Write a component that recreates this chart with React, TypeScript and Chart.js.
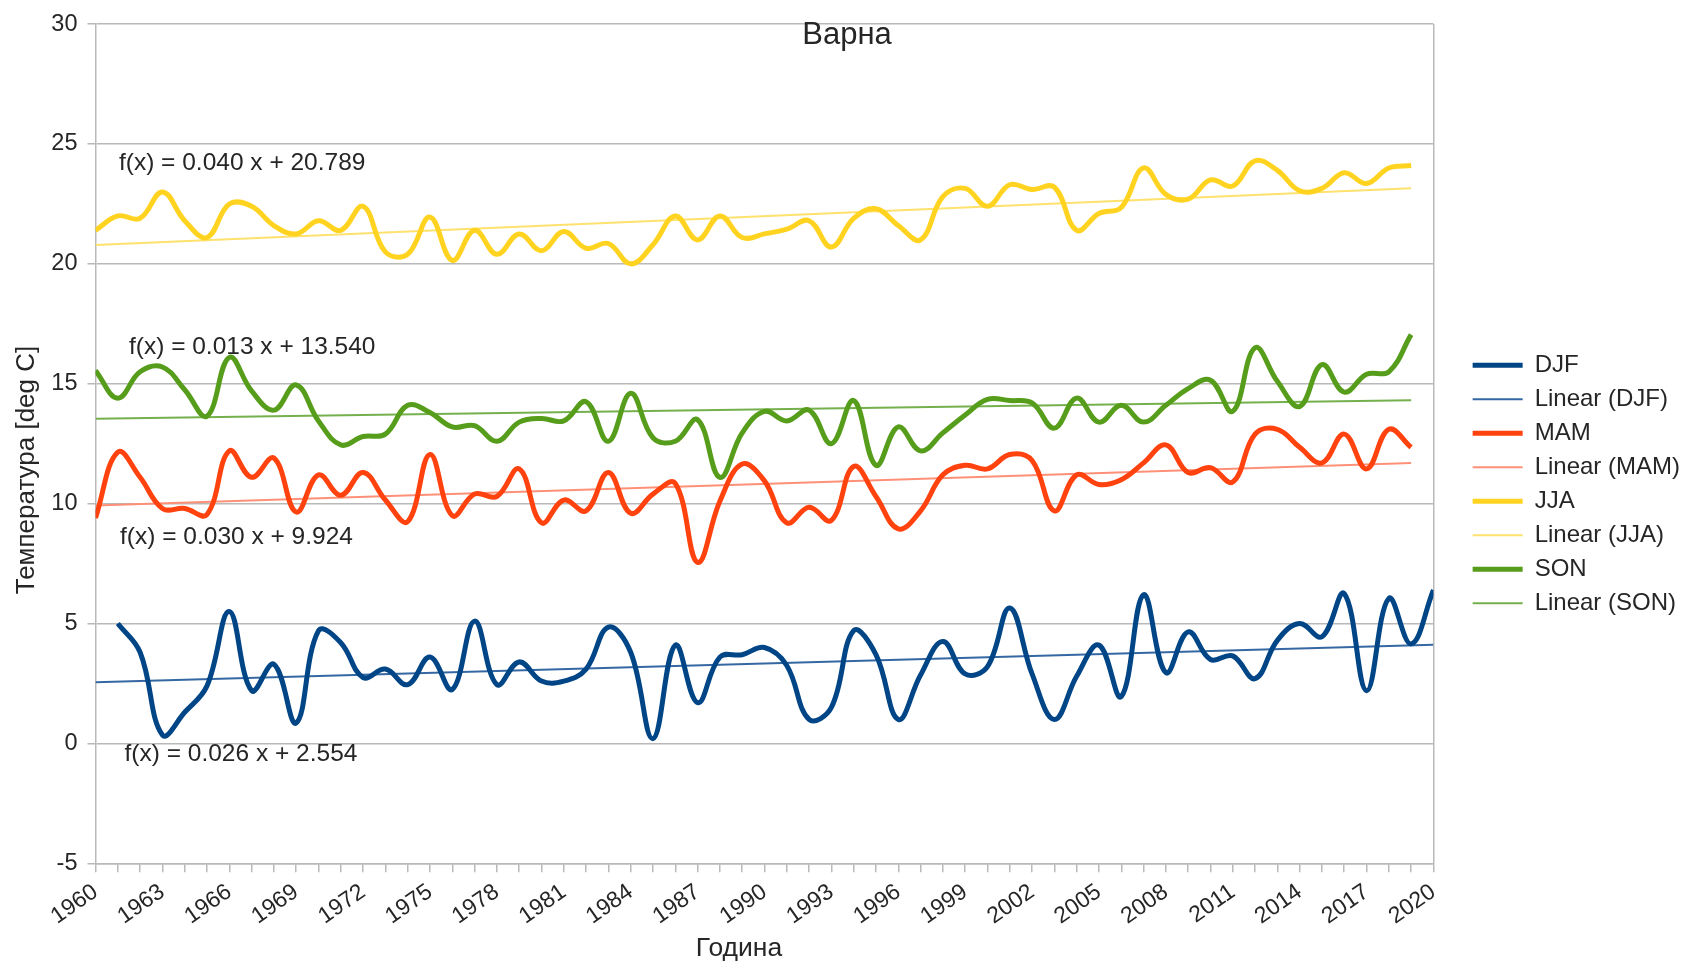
import React, { useEffect, useRef } from "react";
import { Chart, registerables } from "chart.js";

Chart.register(...registerables);

const FONT = '"Liberation Sans", Arial, Helvetica, sans-serif';
const TEXT_COLOR = "#262626";
const GRID_COLOR = "#b9b9b9";

// ---------- data ----------
const yearsSeason = [
  1960, 1961, 1962, 1963, 1964, 1965, 1966, 1967, 1968, 1969,
  1970, 1971, 1972, 1973, 1974, 1975, 1976, 1977, 1978, 1979,
  1980, 1981, 1982, 1983, 1984, 1985, 1986, 1987, 1988, 1989,
  1990, 1991, 1992, 1993, 1994, 1995, 1996, 1997, 1998, 1999,
  2000, 2001, 2002, 2003, 2004, 2005, 2006, 2007, 2008, 2009,
  2010, 2011, 2012, 2013, 2014, 2015, 2016, 2017, 2018, 2019,
];

const yearsDJF = [
  1961, 1962, 1963, 1964, 1965, 1966, 1967, 1968, 1969, 1970,
  1971, 1972, 1973, 1974, 1975, 1976, 1977, 1978, 1979, 1980,
  1981, 1982, 1983, 1984, 1985, 1986, 1987, 1988, 1989, 1990,
  1991, 1992, 1993, 1994, 1995, 1996, 1997, 1998, 1999, 2000,
  2001, 2002, 2003, 2004, 2005, 2006, 2007, 2008, 2009, 2010,
  2011, 2012, 2013, 2014, 2015, 2016, 2017, 2018, 2019, 2020,
];

const djfValues = [
  5.0, 3.8, 0.35, 1.3, 2.4, 5.5, 2.2, 3.3, 0.85, 4.7,
  4.2, 2.75, 3.1, 2.45, 3.6, 2.25, 5.1, 2.45, 3.4, 2.6,
  2.6, 3.1, 4.85, 3.8, 0.2, 4.1, 1.7, 3.6, 3.7, 4.0,
  3.25, 1.0, 1.5, 4.7, 3.7, 1.0, 2.85, 4.25, 2.9, 3.2,
  5.65, 2.9, 1.0, 2.8, 4.1, 1.95, 6.2, 2.95, 4.65, 3.5,
  3.65, 2.7, 4.3, 5.0, 4.45, 6.25, 2.2, 6.05, 4.15, 6.4,
];

const mamValues = [
  9.4, 12.15, 11.1, 9.8, 9.8, 9.55, 12.2, 11.1, 11.9, 9.65,
  11.2, 10.35, 11.3, 10.15, 9.25, 12.05, 9.5, 10.4, 10.3, 11.45,
  9.2, 10.15, 9.7, 11.3, 9.6, 10.4, 10.85, 7.55, 10.1, 11.65,
  10.95, 9.2, 9.85, 9.3, 11.55, 10.3, 8.95, 9.7, 11.2, 11.6,
  11.45, 12.05, 11.8, 9.7, 11.2, 10.8, 11.0, 11.7, 12.45, 11.3,
  11.5, 10.9, 12.9, 13.1, 12.35, 11.7, 12.9, 11.45, 13.1, 12.35,
];

const jjaValues = [
  21.4, 22.0, 21.9, 23.0, 21.8, 21.1, 22.5, 22.4, 21.6, 21.25,
  21.8, 21.4, 22.4, 20.5, 20.4, 21.95, 20.15, 21.4, 20.4, 21.25,
  20.55, 21.35, 20.65, 20.85, 20.0, 20.8, 22.0, 21.0, 22.0, 21.1,
  21.25, 21.45, 21.8, 20.7, 21.9, 22.3, 21.6, 21.0, 22.8, 23.15,
  22.4, 23.3, 23.1, 23.2, 21.4, 22.1, 22.35, 24.0, 22.9, 22.7,
  23.5, 23.25, 24.3, 23.9, 23.05, 23.15, 23.8, 23.35, 24.0, 24.1,
];

const sonValues = [
  15.55, 14.4, 15.5, 15.7, 14.75, 13.65, 16.1, 14.7, 13.9, 14.95,
  13.45, 12.45, 12.8, 12.9, 14.1, 13.8, 13.2, 13.25, 12.6, 13.4,
  13.55, 13.45, 14.25, 12.6, 14.6, 12.75, 12.6, 13.5, 11.1, 12.95,
  13.85, 13.45, 13.9, 12.5, 14.3, 11.6, 13.2, 12.2, 12.95, 13.7,
  14.35, 14.3, 14.2, 13.15, 14.4, 13.4, 14.1, 13.4, 14.1, 14.8,
  15.15, 13.85, 16.5, 15.1, 14.05, 15.8, 14.65, 15.4, 15.5, 17.05,
];

const seriesNames = ["DJF", "MAM", "JJA", "SON"];
const seriesYears = [yearsDJF, yearsSeason, yearsSeason, yearsSeason];
const seriesValues = [djfValues, mamValues, jjaValues, sonValues];

// linear trend lines f(x) = a x + b, x = years since 1960
const trendSlopes = [0.026, 0.03, 0.04, 0.013];
const trendIntercepts = [2.554, 9.924, 20.789, 13.54];
const trendStartYear = [1960, 1960, 1960, 1960];
const trendEndYear = [2020, 2019, 2019, 2019];
const trendOriginYear = 1960;

// where the trend equations are written (in data units)
const eqLabelYear = [1961.3, 1961.1, 1961.05, 1961.5];
const eqLabelValue = [-0.46, 8.61, 24.19, 16.53];

const chartTitle = "Варна";
const xAxisTitle = "Година";
const yAxisTitle = "Температура [deg C]";

const xMin = 1960;
const xMax = 2020;
const xLabelStep = 3;
const yMin = -5;
const yMax = 30;
const yStep = 5;

// ---------- styles ----------
const seriesColors = ["#004586", "#ff420e", "#ffd320", "#579d1c"];
const trendColors = ["#3568a3", "#ff9078", "#ffe16e", "#74b04c"];

const eqText = (i: number) =>
  `f(x) = ${trendSlopes[i].toFixed(3)} x + ${trendIntercepts[i].toFixed(3)}`;

const textPlugin = {
  id: "textPlugin",
  afterDraw(chart: any) {
    const { ctx } = chart;
    const xs = chart.scales.x;
    const ys = chart.scales.y;
    ctx.save();
    ctx.fillStyle = TEXT_COLOR;
    ctx.textBaseline = "middle";
    ctx.textAlign = "left";
    ctx.font = `24.5px ${FONT}`;
    for (let i = 0; i < seriesNames.length; i++) {
      ctx.fillText(
        eqText(i),
        xs.getPixelForValue(eqLabelYear[i]),
        ys.getPixelForValue(eqLabelValue[i])
      );
    }
    ctx.textAlign = "center";
    ctx.font = `31px ${FONT}`;
    ctx.fillText(chartTitle, 847, 35);
    ctx.font = `26.5px ${FONT}`;
    ctx.fillText(xAxisTitle, 739, 949);
    ctx.translate(27, 470);
    ctx.rotate(-Math.PI / 2);
    ctx.font = `26px ${FONT}`;
    ctx.fillText(yAxisTitle, 0, 0);
    ctx.restore();
  },
};

export default function App() {
  const canvasRef = useRef<HTMLCanvasElement | null>(null);

  useEffect(() => {
    if (!canvasRef.current) return;
    Chart.defaults.font.family = FONT;
    Chart.defaults.color = TEXT_COLOR;

    const datasets: any[] = [];
    for (let i = 0; i < seriesNames.length; i++) {
      datasets.push({
        label: seriesNames[i],
        data: seriesYears[i].map((yr, k) => ({ x: yr, y: seriesValues[i][k] })),
        borderColor: seriesColors[i],
        backgroundColor: seriesColors[i],
        borderWidth: 5,
        pointRadius: 0,
        tension: 0.4,
        fill: false,
        isTrend: false,
      });
      const a = trendSlopes[i];
      const b = trendIntercepts[i];
      datasets.push({
        label: `Linear (${seriesNames[i]})`,
        data: [trendStartYear[i], trendEndYear[i]].map((yr) => ({
          x: yr,
          y: b + a * (yr - trendOriginYear),
        })),
        borderColor: trendColors[i],
        backgroundColor: trendColors[i],
        borderWidth: 2,
        pointRadius: 0,
        tension: 0,
        fill: false,
        isTrend: true,
      });
    }

    const chart = new Chart(canvasRef.current, {
      type: "line",
      data: { datasets },
      plugins: [textPlugin],
      options: {
        animation: false,
        responsive: false,
        devicePixelRatio: 1,
        layout: { padding: { top: 23.3, bottom: 19, left: 0, right: -6 } },
        plugins: {
          title: { display: false },
          tooltip: { enabled: false },
          legend: {
            position: "right",
            labels: {
              font: { size: 24, family: FONT },
              color: TEXT_COLOR,
              usePointStyle: true,
              pointStyleWidth: 50,
              padding: 10,
              generateLabels: (c: any) =>
                c.data.datasets.map((ds: any, i: number) => ({
                  text: ds.label,
                  fillStyle: ds.borderColor,
                  strokeStyle: ds.borderColor,
                  lineWidth: ds.isTrend ? 2 : 5,
                  pointStyle: "line",
                  hidden: false,
                  datasetIndex: i,
                  fontColor: TEXT_COLOR,
                })),
            },
          },
        },
        scales: {
          x: {
            type: "linear",
            min: xMin,
            max: xMax,
            afterFit: (s: any) => {
              s.height = 81.7;
            },
            ticks: {
              stepSize: 1,
              autoSkip: false,
              minRotation: 35,
              maxRotation: 35,
              padding: 6,
              color: TEXT_COLOR,
              font: { size: 23, family: FONT },
              callback: (v: any) =>
                (Number(v) - xMin) % xLabelStep === 0 ? String(v) : "",
            },
            grid: {
              drawOnChartArea: true,
              color: (ctx: any) =>
                ctx.tick && ctx.tick.value === xMax ? GRID_COLOR : "rgba(0,0,0,0)",
              tickColor: GRID_COLOR,
              tickLength: 9,
              lineWidth: 1.5,
            },
            border: { display: true, color: GRID_COLOR, width: 1.5 },
          },
          y: {
            type: "linear",
            min: yMin,
            max: yMax,
            afterFit: (s: any) => {
              s.width = 95.5;
            },
            ticks: {
              stepSize: yStep,
              padding: 10,
              color: TEXT_COLOR,
              font: { size: 23.5, family: FONT },
            },
            grid: {
              color: GRID_COLOR,
              tickColor: GRID_COLOR,
              tickLength: 8,
              lineWidth: 1.5,
            },
            border: { display: true, color: GRID_COLOR, width: 1.5 },
          },
          spacer: {
            type: "linear",
            position: "right",
            display: true,
            afterFit: (s: any) => {
              s.width = 29.2;
            },
            ticks: { display: false },
            grid: { display: false, drawTicks: false },
            border: { display: false },
          },
        },
      } as any,
    });

    return () => chart.destroy();
  }, []);

  return (
    <div style={{ position: "fixed", left: 0, top: 0, width: 1684, height: 964, background: "#fff" }}>
      <canvas ref={canvasRef} width={1684} height={964} style={{ display: "block" }} />
    </div>
  );
}
